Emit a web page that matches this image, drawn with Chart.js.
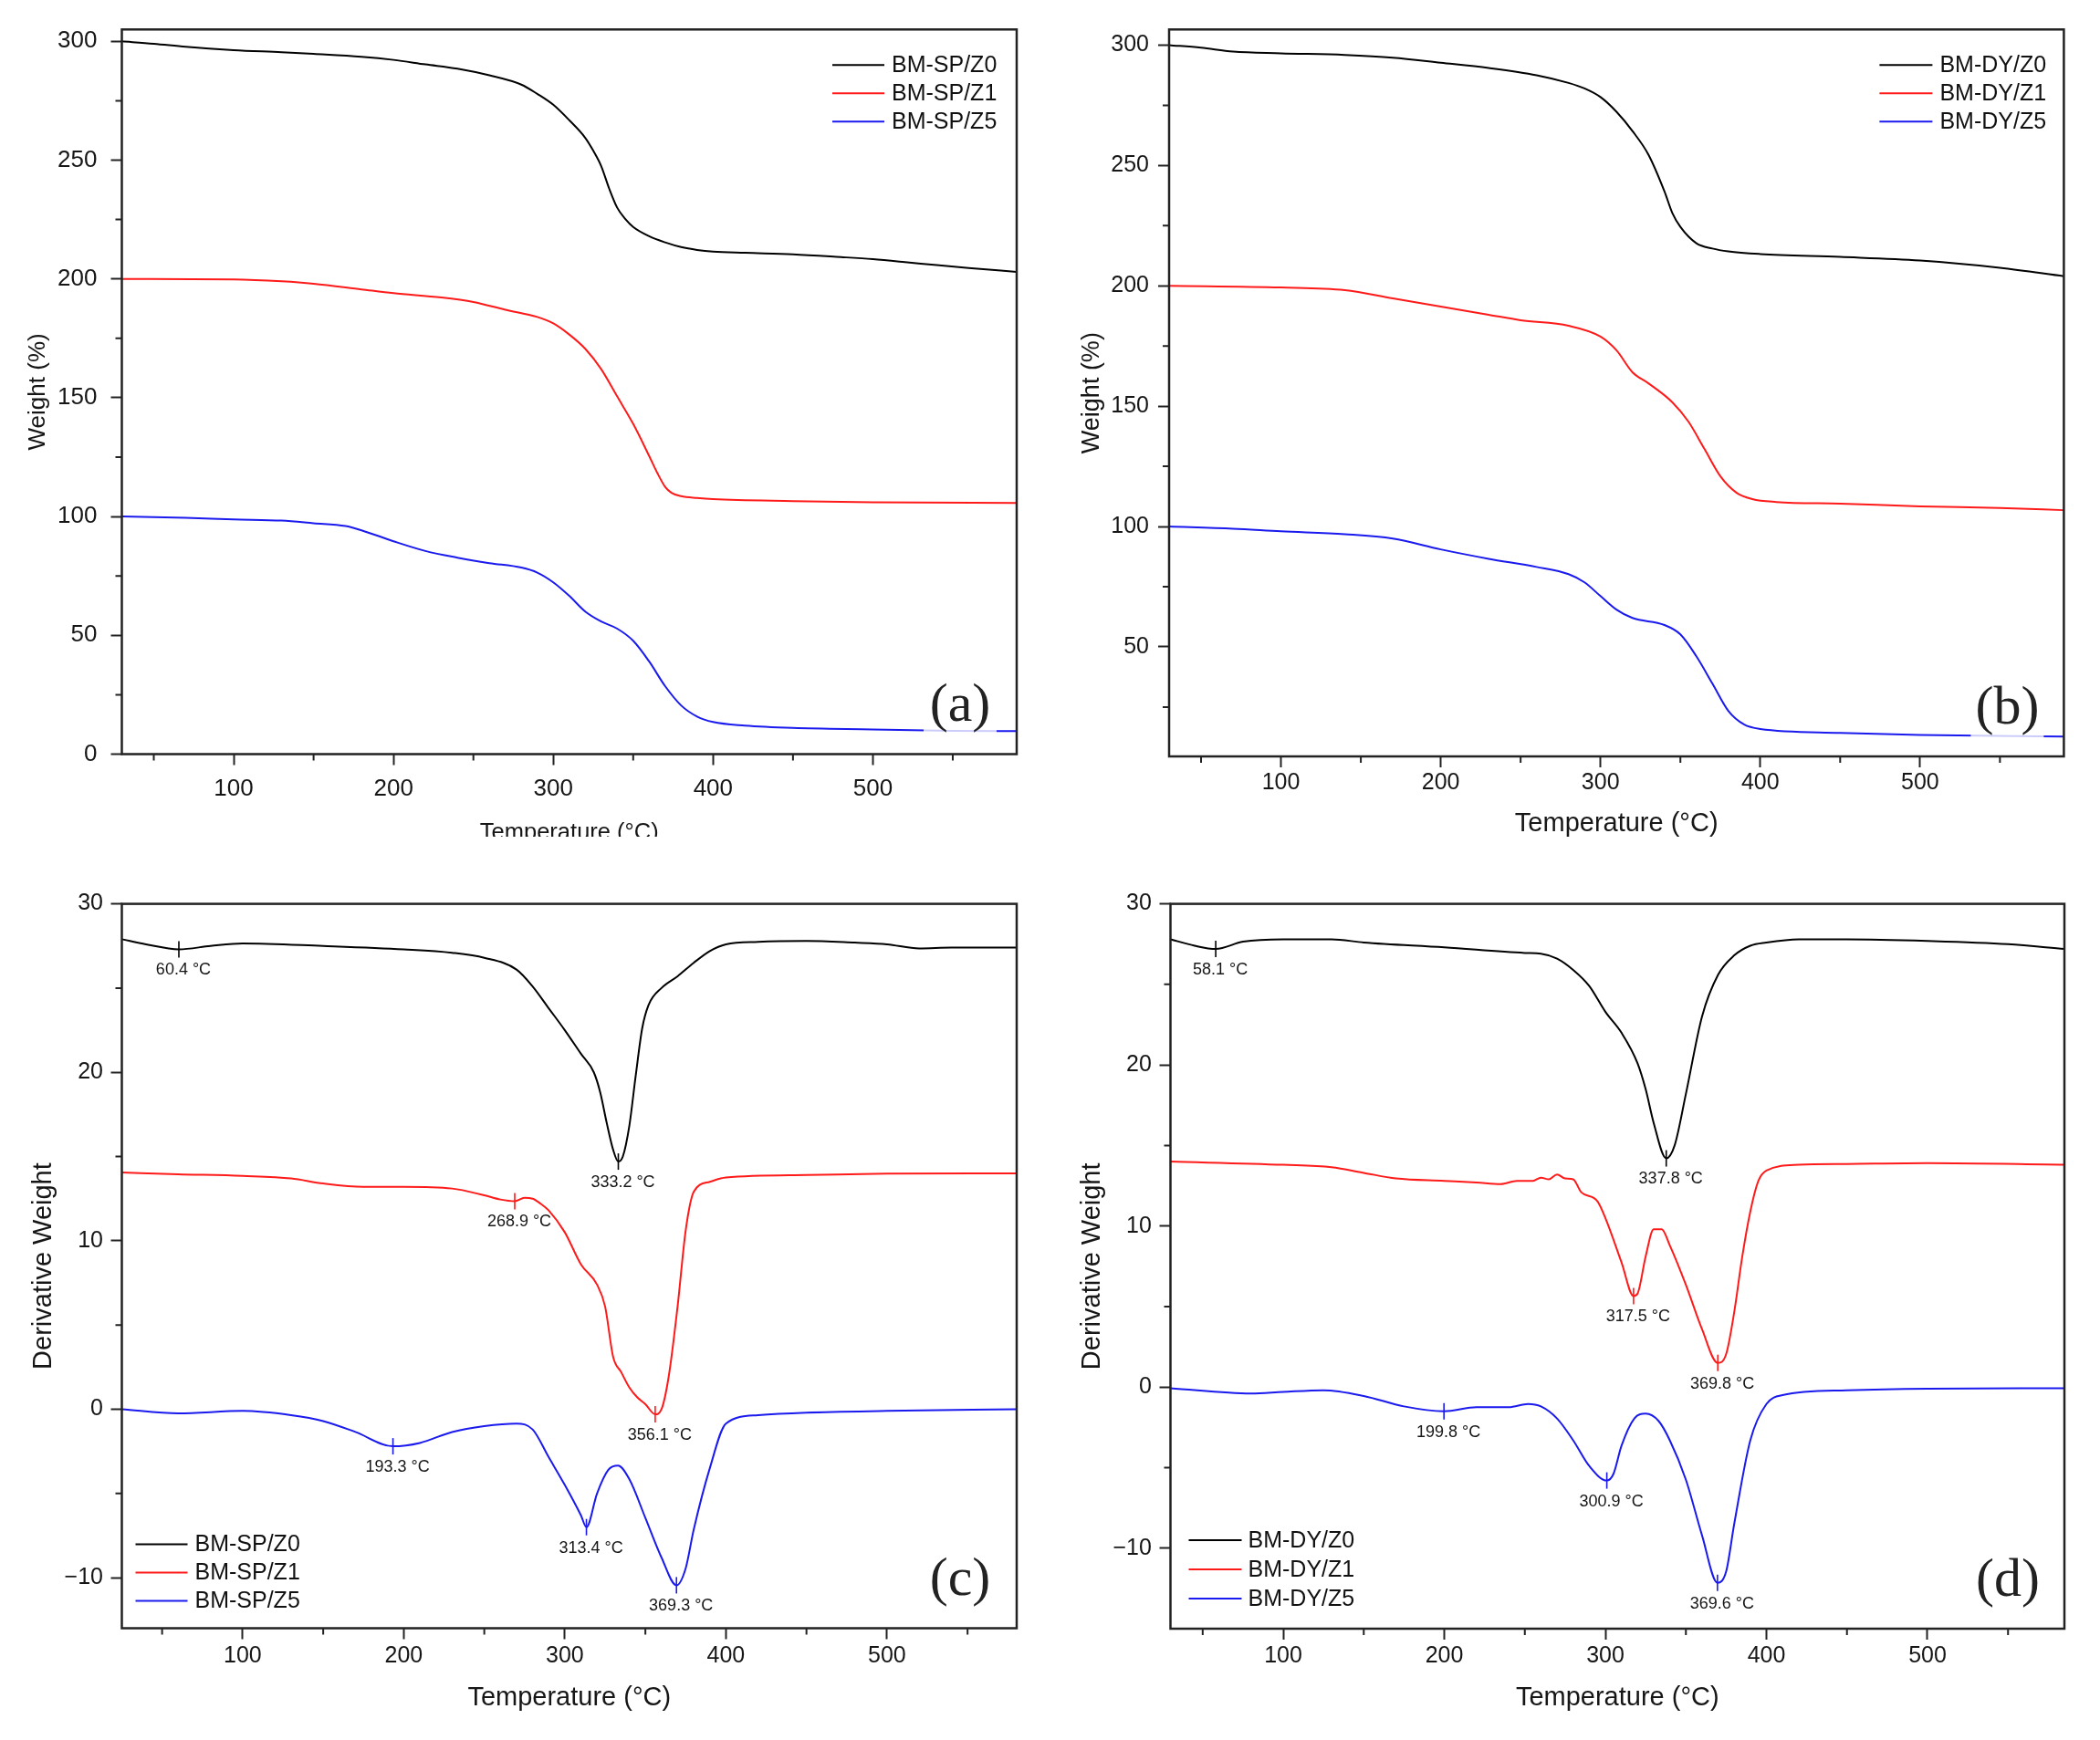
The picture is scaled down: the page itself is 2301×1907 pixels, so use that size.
<!DOCTYPE html>
<html>
<head>
<meta charset="utf-8">
<script src="https://cdn.jsdelivr.net/npm/chart.js@4.4.1/dist/chart.umd.min.js"></script>
<style>
html,body{margin:0;padding:0;background:#fff;}
body{width:2301px;height:1907px;position:relative;overflow:hidden;}
.panel{position:absolute;overflow:hidden;background:#fff;}
canvas{display:block;}
</style>
</head>
<body>
<div class="panel" style="left:0;top:0;width:1150px;height:917px"><canvas id="ca" width="1150" height="940"></canvas></div>
<div class="panel" style="left:1150px;top:0;width:1151px;height:940px"><canvas id="cb" width="1151" height="940"></canvas></div>
<div class="panel" style="left:0;top:950px;width:1150px;height:957px"><canvas id="cc" width="1150" height="957"></canvas></div>
<div class="panel" style="left:1150px;top:950px;width:1151px;height:957px"><canvas id="cd" width="1151" height="957"></canvas></div>
<script>
// ---------------- DATA ----------------
const spLabels = ['BM-SP/Z0', 'BM-SP/Z1', 'BM-SP/Z5'];
const dyLabels = ['BM-DY/Z0', 'BM-DY/Z1', 'BM-DY/Z5'];

// tick labels
const tempTicks = [100, 200, 300, 400, 500];
const weightTicksA = [0, 50, 100, 150, 200, 250, 300];
const weightTicksB = [50, 100, 150, 200, 250, 300];
const derivTicksC = [-10, 0, 10, 20, 30];
const derivTicksD = [-10, 0, 10, 20, 30];

// (a) TGA, SP samples (offset curves, %)
const tgaSpZ0Temp = [30,50,70,100,130,150,180,200,220,240,260,280,290,300,310,320,325,330,335,340,345,350,360,370,380,390,400,420,450,480,500,520,540,560,590];
const tgaSpZ0Wt   = [300,299,297.7,296.3,295.4,294.7,293.5,292.2,290.3,288.5,285.7,281.8,277.9,273.3,266.8,259.4,254,247.5,238,230,225.3,221.9,218,215.4,213.4,212.2,211.5,211,210.4,209.2,208.3,207.1,205.8,204.6,203];
const tgaSpZ1Temp = [30,100,130,150,180,200,230,250,270,290,300,310,320,330,340,350,360,365,370,374,380,390,400,450,500,590];
const tgaSpZ1Wt   = [200,199.8,199,198,195.6,194,192.2,190.3,187,184,181.3,176.6,170.6,162,150.5,139,125.5,118.5,112.5,110,108.6,107.8,107.3,106.5,106,105.7];
const tgaSpZ5Temp = [30,70,100,130,150,170,180,200,220,240,260,280,290,300,310,320,330,340,350,360,370,380,390,400,420,450,500,550,590];
const tgaSpZ5Wt   = [100,99.5,98.8,98.3,97.2,96,94.2,89.6,85.5,82.7,80.4,78.5,76.4,72.3,66.6,60,55.8,52.8,47.7,39,28.6,20.5,15.8,13.5,12,11,10.4,9.8,9.7];

// (b) TGA, DY samples
const tgaDyZ0Temp = [30,50,70,100,140,170,200,230,260,280,290,300,310,320,330,340,345,350,360,370,380,400,450,500,550,590];
const tgaDyZ0Wt   = [300,298.9,297.3,296.6,295.9,294.8,292.7,290.5,287.5,284.3,282,278.4,272.3,264.3,254.5,239.3,230.2,224.5,217.7,215.5,214.3,213.2,212,210.5,207.5,204];
const tgaDyZ1Temp = [30,100,140,170,200,230,250,280,300,310,320,330,345,355,365,375,385,395,410,450,500,550,590];
const tgaDyZ1Wt   = [200,199.3,198.2,194.8,191.4,188,185.7,183.4,178.9,173.2,164.1,159.5,151.6,143.6,132.3,120.9,114.1,111.4,110.2,109.5,108.4,107.7,106.8];
const tgaDyZ5Temp = [30,70,100,140,170,200,230,260,280,290,300,310,320,340,350,360,370,380,390,400,450,500,590];
const tgaDyZ5Wt   = [100,99.1,98,96.8,95,90.5,86.6,83.2,80.2,76.8,71.1,65.5,62,59.1,55.2,46.1,34.8,23.4,17.7,15.9,14.3,13.4,12.7];

// (c) DTG, SP samples
const dtgSpZ0Temp = [25,40,60.4,80,100,150,200,230,250,270,280,290,300,310,318,322,326,330,333.2,336,340,344,348,352,360,370,380,390,400,420,450,480,500,520,540,580];
const dtgSpZ0Val  = [27.9,27.6,27.3,27.5,27.65,27.5,27.3,27.1,26.8,26.1,25.1,23.8,22.5,21.1,20.0,18.8,17.0,15.4,14.7,15.0,16.8,19.8,22.6,24.0,25.0,25.7,26.5,27.2,27.6,27.75,27.8,27.7,27.6,27.35,27.4,27.4];
const dtgSpZ1Temp = [25,60,100,130,150,175,200,230,250,260,268.9,275,280,285,290,300,310,320,325,330,335,340,345,350,356.1,360,364.5,370,375,380,390,400,450,500,580];
const dtgSpZ1Val  = [14.05,13.95,13.85,13.7,13.4,13.2,13.2,13.1,12.7,12.45,12.35,12.55,12.5,12.2,11.8,10.5,8.6,7.4,6.1,3.1,2.2,1.3,0.7,0.3,-0.3,0.0,1.95,6.1,10.6,12.9,13.5,13.75,13.9,13.98,14.0];
const dtgSpZ5Temp = [25,60,100,130,150,170,193.3,210,230,250,270,280,290,300,310,313.4,320,327,333,340,350,360,369.3,375,380,390,400,420,450,500,580];
const dtgSpZ5Val  = [0,-0.25,-0.1,-0.35,-0.7,-1.35,-2.2,-2.0,-1.35,-1.0,-0.85,-1.2,-2.85,-4.5,-6.3,-7.0,-5.0,-3.6,-3.35,-4.15,-6.45,-8.8,-10.45,-9.45,-7.15,-3.5,-0.85,-0.35,-0.2,-0.1,0];
const dtgSpZ0Peaks = [60.4, 333.2];
const dtgSpZ1Peaks = [268.9, 356.1];
const dtgSpZ5Peaks = [193.3, 313.4, 369.3];

// (d) DTG, DY samples
const dtgDyZ0Temp = [30,45,58.1,75,100,130,150,200,250,260,270,280,290,300,310,320,325,330,337.8,343,350,360,370,380,390,400,420,450,500,550,585];
const dtgDyZ0Val  = [27.8,27.4,27.2,27.65,27.8,27.8,27.6,27.3,26.95,26.9,26.6,25.9,24.9,23.3,22.0,20.1,18.5,16.4,14.2,15.0,18.2,23.0,25.6,26.8,27.4,27.6,27.8,27.8,27.7,27.5,27.2];
const dtgDyZ1Temp = [30,100,130,150,170,200,220,235,245,255,260,265,270,275,280,285,295,300,310,317.5,320,325,330,335,340,350,360,369.8,375,380,385,390,395,400,420,450,500,585];
const dtgDyZ1Val  = [14.0,13.8,13.65,13.3,12.95,12.8,12.7,12.6,12.8,12.8,13.0,12.9,13.2,12.95,12.9,12.1,11.55,10.5,7.75,5.65,5.8,8.1,9.8,9.8,8.8,6.35,3.6,1.5,2.05,4.65,8.1,10.9,12.8,13.45,13.8,13.85,13.9,13.8];
const dtgDyZ5Temp = [30,80,100,125,150,175,199.8,220,240,252,260,270,280,290,300.9,305,310,318,325,333,340,350,360,369.6,375,380,390,400,410,450,500,585];
const dtgDyZ5Val  = [-0.07,-0.4,-0.3,-0.2,-0.55,-1.2,-1.5,-1.25,-1.25,-1.05,-1.2,-1.95,-3.3,-4.9,-5.8,-5.4,-3.65,-1.95,-1.65,-2.1,-3.3,-5.75,-9.2,-12.15,-11.45,-8.5,-3.3,-1.05,-0.5,-0.2,-0.1,-0.07];
const dtgDyZ0Peaks = [58.1, 337.8];
const dtgDyZ1Peaks = [317.5, 369.8];
const dtgDyZ5Peaks = [199.8, 300.9, 369.6];

// ---------------- STYLE ----------------
const FONT = "'Liberation Sans', Arial, sans-serif";
const SERIF = "'Liberation Serif', 'Times New Roman', serif";
const INK = '#161616';
const AXIS = '#222222';
const COLORS = ['#000000', '#ff1a1a', '#1a1aee'];

function makeDatasets(labels, temps, vals) {
  return labels.map((lab, i) => ({
    label: lab,
    data: temps[i].map((t, j) => ({x: t, y: vals[i][j]})),
    borderColor: COLORS[i],
    backgroundColor: COLORS[i],
    borderWidth: 2,
    pointRadius: 0,
    fill: false,
    cubicInterpolationMode: 'monotone'
  }));
}

function minorValues(min, max, step) {
  const out = [];
  let v = Math.ceil((min - step / 2) / step) * step + step / 2;
  for (; v < max; v += step) if (v > min + 0.5 && v < max - 0.5) out.push(v);
  return out;
}

const deco = {
  id: 'deco',
  afterDatasetsDraw(chart, args, o) {
    const {ctx, chartArea: ca, scales: {x, y}} = chart;
    ctx.save();
    // peak markers + labels
    (o.peaks || []).forEach((list, i) => {
      const ds = chart.data.datasets[i];
      list.forEach(t => {
        const pt = ds.data.find(p => p.x === t);
        if (!pt) return;
        const px = x.getPixelForValue(pt.x), py = y.getPixelForValue(pt.y);
        ctx.strokeStyle = ds.borderColor;
        ctx.lineWidth = 1.6;
        ctx.beginPath(); ctx.moveTo(px, py - 9); ctx.lineTo(px, py + 9); ctx.stroke();
        ctx.fillStyle = INK;
        ctx.font = '18px ' + FONT;
        ctx.textAlign = 'center';
        ctx.textBaseline = 'middle';
        ctx.fillText(t.toFixed(1) + ' °C', px + 5, py + 23);
      });
    });
    // panel letter
    const lx = ca.right - 62, ly = ca.bottom - 54;
    ctx.fillStyle = 'rgba(255,255,255,0.78)';
    ctx.fillRect(lx - 40, ly - 34, 80, 68);
    ctx.fillStyle = '#222';
    ctx.font = '60px ' + SERIF;
    ctx.textAlign = 'center';
    ctx.textBaseline = 'middle';
    ctx.fillText(o.letter, lx, ly + 2);
    // legend
    const lg = o.legend;
    chart.data.datasets.forEach((ds, i) => {
      const base = lg.fromRight ? ca.right : ca.left;
      const sgn = lg.fromRight ? -1 : 1;
      const rowY = lg.fromBottom ? ca.bottom - lg.dy + i * lg.gap : ca.top + lg.dy + i * lg.gap;
      ctx.strokeStyle = ds.borderColor;
      ctx.lineWidth = 2;
      ctx.beginPath();
      ctx.moveTo(base + sgn * lg.x1, rowY);
      ctx.lineTo(base + sgn * lg.x2, rowY);
      ctx.stroke();
      ctx.fillStyle = '#111';
      ctx.font = '25px ' + FONT;
      ctx.textAlign = 'left';
      ctx.textBaseline = 'middle';
      ctx.fillText(ds.label, base + sgn * lg.tx, rowY + 1);
    });
    ctx.restore();
  },
  afterDraw(chart, args, o) {
    const {ctx, chartArea: ca, scales: {x, y}} = chart;
    ctx.save();
    ctx.strokeStyle = AXIS;
    ctx.lineWidth = 2.5;
    ctx.strokeRect(ca.left, ca.top, ca.right - ca.left, ca.bottom - ca.top);
    ctx.lineWidth = 2;
    ctx.beginPath();
    minorValues(x.min, x.max, o.xStep).forEach(v => {
      const px = x.getPixelForValue(v);
      ctx.moveTo(px, ca.bottom); ctx.lineTo(px, ca.bottom + 7);
    });
    minorValues(y.min, y.max, o.yStep).forEach(v => {
      const py = y.getPixelForValue(v);
      ctx.moveTo(ca.left, py); ctx.lineTo(ca.left - 7, py);
    });
    ctx.stroke();
    ctx.restore();
  }
};

function fmt(v) { return v < 0 ? '\u2212' + Math.abs(v) : String(v); }

function build(id, c) {
  new Chart(document.getElementById(id), {
    type: 'line',
    data: {datasets: c.datasets},
    options: {
      responsive: false,
      animation: false,
      events: [],
      layout: {padding: {top: c.padTop, right: c.padRight, left: 0, bottom: 0}},
      plugins: {
        legend: {display: false},
        tooltip: {enabled: false},
        deco: {peaks: c.peaks, letter: c.letter, legend: c.legend, xStep: 100, yStep: c.yStep}
      },
      scales: {
        x: {
          type: 'linear', position: 'bottom', min: c.xMin, max: c.xMax,
          afterBuildTicks: s => { s.ticks = tempTicks.map(v => ({value: v})); },
          ticks: {autoSkip: false, maxRotation: 0,
                  font: {family: FONT, size: c.tickSize}, color: INK, padding: c.xTickPad},
          grid: {display: true, drawOnChartArea: false, drawTicks: true, tickLength: 12, tickWidth: 2, tickColor: AXIS},
          border: {display: false},
          title: {display: true, text: 'Temperature (°C)', color: INK,
                  font: {family: FONT, size: c.xTitleSize}, padding: {top: 0, bottom: c.xTitlePad}},
          afterFit: s => { s.height = c.xHeight; }
        },
        y: {
          type: 'linear', position: 'left', min: c.yMin, max: c.yMax,
          afterBuildTicks: s => { s.ticks = c.yTicks.map(v => ({value: v})); },
          ticks: {autoSkip: false,
                  font: {family: FONT, size: c.tickSize}, color: INK, padding: c.yTickPad,
                  callback: v => fmt(v)},
          grid: {display: true, drawOnChartArea: false, drawTicks: true, tickLength: 12, tickWidth: 2, tickColor: AXIS},
          border: {display: false},
          title: {display: true, text: c.yTitle, color: INK,
                  font: {family: FONT, size: c.yTitleSize}, padding: {top: c.yTitlePad, bottom: 0}},
          afterFit: s => { s.width = c.yWidth; }
        }
      }
    },
    plugins: [deco]
  });
}

build('ca', {
  datasets: makeDatasets(spLabels, [tgaSpZ0Temp, tgaSpZ1Temp, tgaSpZ5Temp], [tgaSpZ0Wt, tgaSpZ1Wt, tgaSpZ5Wt]),
  peaks: [], letter: '(a)',
  legend: {fromRight: true, fromBottom: false, x1: 202, x2: 145, tx: 137, dy: 39, gap: 31},
  xMin: 30, xMax: 590, yMin: 0, yMax: 305, yStep: 50, yTicks: weightTicksA,
  padTop: 32.3, padRight: 36, yWidth: 133.5, xHeight: 113.5,
  tickSize: 26, xTickPad: 11, yTickPad: 15,
  xTitleSize: 25.5, xTitlePad: 12, yTitle: 'Weight (%)', yTitleSize: 26, yTitlePad: 26
});
build('cb', {
  datasets: makeDatasets(dyLabels, [tgaDyZ0Temp, tgaDyZ1Temp, tgaDyZ5Temp], [tgaDyZ0Wt, tgaDyZ1Wt, tgaDyZ5Wt]),
  peaks: [], letter: '(b)',
  legend: {fromRight: true, fromBottom: false, x1: 202, x2: 144, tx: 136, dy: 39, gap: 31},
  xMin: 30, xMax: 590, yMin: 4.5, yMax: 306.5, yStep: 50, yTicks: weightTicksB,
  padTop: 32.3, padRight: 39.6, yWidth: 131, xHeight: 111,
  tickSize: 25, xTickPad: 2.5, yTickPad: 10,
  xTitleSize: 29, xTitlePad: 20, yTitle: 'Weight (%)', yTitleSize: 27, yTitlePad: 30
});
build('cc', {
  datasets: makeDatasets(spLabels, [dtgSpZ0Temp, dtgSpZ1Temp, dtgSpZ5Temp], [dtgSpZ0Val, dtgSpZ1Val, dtgSpZ5Val]),
  peaks: [dtgSpZ0Peaks, dtgSpZ1Peaks, dtgSpZ5Peaks], letter: '(c)',
  legend: {fromRight: false, fromBottom: true, x1: 15, x2: 72, tx: 80, dy: 92, gap: 31},
  xMin: 25, xMax: 580.5, yMin: -13, yMax: 30, yStep: 10, yTicks: derivTicksC,
  padTop: 40.6, padRight: 36, yWidth: 133.5, xHeight: 122.5,
  tickSize: 25, xTickPad: 3.5, yTickPad: 8.5,
  xTitleSize: 29, xTitlePad: 28.6, yTitle: 'Derivative Weight', yTitleSize: 29, yTitlePad: 31
});
build('cd', {
  datasets: makeDatasets(dyLabels, [dtgDyZ0Temp, dtgDyZ1Temp, dtgDyZ5Temp], [dtgDyZ0Val, dtgDyZ1Val, dtgDyZ5Val]),
  peaks: [dtgDyZ0Peaks, dtgDyZ1Peaks, dtgDyZ5Peaks], letter: '(d)',
  legend: {fromRight: false, fromBottom: true, x1: 20, x2: 78, tx: 85, dy: 97, gap: 32},
  xMin: 30, xMax: 585, yMin: -15, yMax: 30, yStep: 10, yTicks: derivTicksD,
  padTop: 40.6, padRight: 39, yWidth: 132.5, xHeight: 122,
  tickSize: 25, xTickPad: 3, yTickPad: 8.7,
  xTitleSize: 29, xTitlePad: 28.6, yTitle: 'Derivative Weight', yTitleSize: 29, yTitlePad: 30
});
</script>
</body>
</html>
